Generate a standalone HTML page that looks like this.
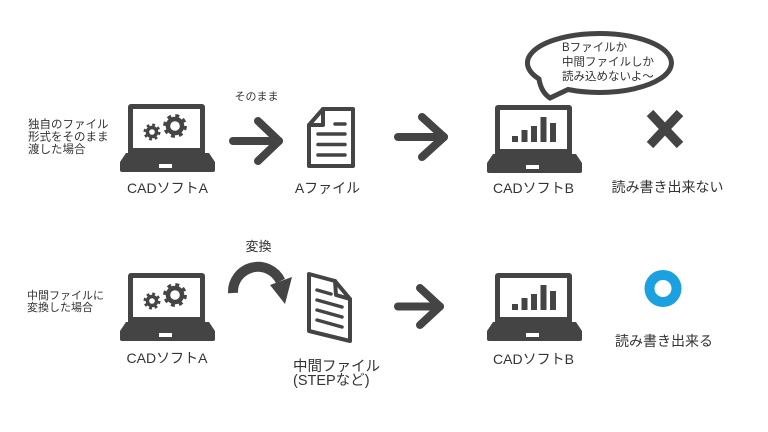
<!DOCTYPE html>
<html>
<head>
<meta charset="utf-8">
<style>
html,body{margin:0;padding:0;background:#fff;}
svg{display:block;}
text{font-family:"Liberation Sans","Noto Sans CJK JP",sans-serif;fill:#333;}
</style>
</head>
<body>
<svg width="768" height="432" viewBox="0 0 768 432" xmlns="http://www.w3.org/2000/svg">
<defs>
  <g id="laptop">
    <rect x="8" y="0" width="77" height="52" rx="3" fill="#444"/>
    <rect x="13" y="5" width="67" height="39" fill="#fff"/>
    <path d="M6,49 L89,49 L95,58 L95,66 Q95,68 93,68 L2,68 Q0,68 0,66 L0,58 Z" fill="#444"/>
    <rect x="39" y="60" width="13" height="4" fill="#fff"/>
  </g>
  <g id="gears">
    <circle cx="32" cy="28" r="6.3" fill="#444"/>
    <circle cx="32" cy="28" r="7.2" fill="none" stroke="#444" stroke-width="2.6" stroke-dasharray="2.8 2.855"/>
    <circle cx="32" cy="28" r="2.8" fill="#fff"/>
    <circle cx="55" cy="22" r="9.3" fill="#444"/>
    <circle cx="55" cy="22" r="10.5" fill="none" stroke="#444" stroke-width="2.8" stroke-dasharray="4 4.246"/>
    <circle cx="55" cy="22" r="4.8" fill="#fff"/>
  </g>
  <g id="bars" fill="#444">
    <rect x="25" y="31" width="6" height="6"/>
    <rect x="34.5" y="25" width="6" height="12"/>
    <rect x="44" y="21" width="6" height="16"/>
    <rect x="53.5" y="12" width="6" height="25"/>
    <rect x="63" y="18" width="6" height="19"/>
  </g>
</defs>

<!-- Row 1 -->
<text x="28" y="128" font-size="11.5">独自のファイル</text>
<text x="28" y="140.5" font-size="11.5">形式をそのまま</text>
<text x="28" y="153" font-size="11.5">渡した場合</text>

<g transform="translate(120,104)"><use href="#laptop"/><use href="#gears"/></g>
<text x="167.5" y="193" font-size="14" text-anchor="middle">CADソフトA</text>

<text x="256.5" y="100" font-size="11" text-anchor="middle">そのまま</text>
<g stroke="#444" stroke-width="8" stroke-linecap="round" stroke-linejoin="round" fill="none">
  <path d="M233,141 L279,141"/>
  <path d="M258,121 L279,141 L258,161"/>
</g>

<g stroke="#444" stroke-width="4" stroke-linejoin="round" stroke-linecap="round" fill="none">
  <path d="M309,125 L323,109 L353,109 L353,166 L309,166 Z"/>
  <path d="M323,109 L323,125 L309,125"/>
  <path d="M335,124 L345,124 M318,134 L345,134 M318,144.5 L345,144.5 M318,155 L345,155" stroke-width="3.5"/>
</g>
<text x="327.5" y="193" font-size="14" text-anchor="middle">Aファイル</text>

<g stroke="#444" stroke-width="8" stroke-linecap="round" stroke-linejoin="round" fill="none">
  <path d="M398,137 L444,137"/>
  <path d="M422,117 L444,137 L422,157"/>
</g>

<!-- speech bubble -->
<path d="M568,89.5 A72,29.5 0 1 0 539,79 Q541,92 550,98 L568,89.5 Z" fill="#fff" stroke="#444" stroke-width="5" stroke-linejoin="miter"/>
<text x="562" y="51" font-size="11.5">Bファイルか</text>
<text x="562" y="65.5" font-size="11.5">中間ファイルしか</text>
<text x="562" y="80" font-size="11.5">読み込めないよ～</text>

<g transform="translate(487,105)"><use href="#laptop"/><use href="#bars"/></g>
<text x="533.5" y="193" font-size="14" text-anchor="middle">CADソフトB</text>

<g stroke="#444" stroke-width="9" fill="none">
  <path d="M650,113 L680,145 M680,113 L650,145"/>
</g>
<text x="667.5" y="192" font-size="14" text-anchor="middle">読み書き出来ない</text>

<!-- Row 2 -->
<text x="27" y="299" font-size="11">中間ファイルに</text>
<text x="27" y="311" font-size="11">変換した場合</text>

<g transform="translate(120,273)"><use href="#laptop"/><use href="#gears"/></g>
<text x="167" y="363" font-size="14" text-anchor="middle">CADソフトA</text>

<text x="258.5" y="251" font-size="13" text-anchor="middle">変換</text>
<path d="M233,293 A25,25 0 0 1 280.5,281" fill="none" stroke="#444" stroke-width="10"/>
<path d="M270,285 L292,277 L285,304 Z" fill="#444"/>

<g stroke="#444" stroke-width="4" stroke-linejoin="round" stroke-linecap="round" fill="none">
  <path d="M309,274 L335,281 L350,299 L350,341 L309,331 Z"/>
  <path d="M335,281 L336,295 L350,299"/>
  <path d="M317,290 L331,294 M317,300 L342,307 M317,310 L342,317 M317,320 L342,327" stroke-width="3.5"/>
</g>
<text x="293" y="371" font-size="14.5">中間ファイル</text>
<text x="293" y="385" font-size="14.5">(STEPなど)</text>

<g stroke="#444" stroke-width="8" stroke-linecap="round" stroke-linejoin="round" fill="none">
  <path d="M398,306.5 L440,306.5"/>
  <path d="M420,288 L440,306.5 L420,325"/>
</g>

<g transform="translate(487,273)"><use href="#laptop"/><use href="#bars"/></g>
<text x="533.5" y="364" font-size="14" text-anchor="middle">CADソフトB</text>

<circle cx="663" cy="288.5" r="13.5" fill="none" stroke="#1ca1e0" stroke-width="10"/>
<text x="664" y="346" font-size="14" text-anchor="middle">読み書き出来る</text>
</svg>
</body>
</html>
